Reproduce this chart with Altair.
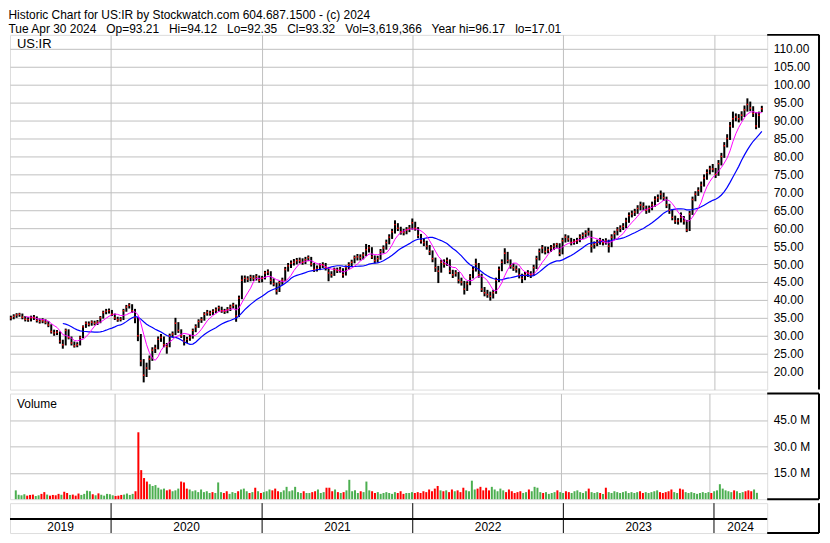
import altair as alt
import pandas as pd

# ---------------- data ----------------
TITLE_LINE1 = "Historic Chart for US:IR by Stockwatch.com 604.687.1500 - (c) 2024"
TITLE_LINE2 = ("Tue Apr 30 2024\u00a0\u00a0 Op=93.21\u00a0\u00a0 Hi=94.12\u00a0\u00a0 Lo=92.35\u00a0\u00a0 "
               "Cl=93.32\u00a0\u00a0 Vol=3,619,366\u00a0\u00a0 Year hi=96.17\u00a0\u00a0 lo=17.01")
SYMBOL = "US:IR"
VOLUME_LABEL = "Volume"
FIRST_WEEK = "2019-05-03"
YEARS = [2019, 2020, 2021, 2022, 2023, 2024]
PRICE_TICKS = [20, 25, 30, 35, 40, 45, 50, 55, 60, 65, 70, 75, 80, 85, 90, 95, 100, 105, 110]
VOLUME_TICKS = [15e6, 30e6, 45e6]

# weekly closes
close = [
    35.0, 35.4, 35.8, 36.0, 35.2, 34.6, 34.5, 35.0, 35.1, 34.3,
    34.0, 34.2, 33.8, 33.0, 31.2, 30.8, 31.0, 28.5, 27.5, 31.5,
    29.5, 28.0, 27.2, 27.5, 29.5, 32.5, 33.5, 33.2, 33.8, 33.5,
    33.8, 35.0, 36.5, 36.8, 37.0, 36.0, 35.0, 34.5, 34.6, 37.0,
    38.0, 38.5, 37.0, 35.0, 30.0, 23.0, 19.0, 21.0, 23.5, 26.0,
    26.5, 29.0, 29.5, 27.5, 27.0, 30.0, 30.5, 33.5, 31.5, 30.0,
    28.5, 29.0, 29.5, 31.5, 32.5, 34.0, 34.5, 36.0, 36.5, 36.3,
    36.8, 37.2, 37.8, 37.0, 36.8, 37.3, 38.0, 38.5, 35.5, 40.5,
    45.5, 46.0, 45.8, 46.3, 46.0, 46.5, 45.5, 46.0, 47.5, 47.8,
    45.5, 44.5, 42.5, 44.8, 45.5, 48.5, 49.5, 50.2, 50.5, 51.0,
    51.0, 50.5, 51.2, 51.8, 50.0, 48.5, 48.8, 49.5, 49.8, 49.0,
    47.5, 47.0, 48.5, 48.2, 48.5, 47.0, 49.0, 49.8, 50.5, 51.8,
    52.0, 51.8, 52.5, 54.0, 54.5, 52.0, 51.0, 51.5, 53.5, 54.5,
    56.0, 57.5, 59.0, 61.0, 60.0, 59.0, 58.8, 59.5, 60.0, 61.5,
    60.0, 58.0, 56.5, 56.0, 55.0, 53.5, 51.5, 49.0, 48.0, 50.5,
    50.0, 51.0, 48.0, 47.0, 47.5, 45.5, 45.0, 43.0, 44.5, 46.5,
    48.5, 50.0, 47.0, 43.0, 42.0, 41.5, 41.0, 42.0, 45.5, 48.5,
    50.5, 53.0, 51.0, 49.5, 49.0, 48.5, 47.0, 46.0, 47.0, 47.5,
    47.0, 49.0, 51.5, 53.5, 54.5, 53.5, 54.0, 54.5, 55.0, 55.5,
    53.0, 56.5, 57.5, 57.0, 56.0, 56.3, 56.5, 57.5, 58.0, 58.5,
    59.0, 55.0, 55.5, 56.0, 56.5, 56.0, 56.5, 55.0, 57.5, 58.5,
    59.5, 60.0, 60.5, 62.0, 63.5, 64.0, 64.5, 65.5, 66.5, 66.0,
    65.0, 65.5, 66.5, 68.0, 68.5, 69.5, 68.5, 66.5, 65.0, 63.0,
    62.0, 62.0, 63.0, 62.0, 59.5, 64.0, 68.0, 69.5, 70.5, 72.0,
    74.0, 75.5, 76.5, 76.5, 75.0, 78.0, 80.0, 83.0, 85.0, 88.5,
    90.5, 91.0, 90.5, 91.5, 93.0, 94.5, 93.5, 92.0, 88.5, 91.5, 93.32,
]
# weekly highs
high = [
    35.6, 36.0, 36.3, 36.4, 36.2, 35.5, 35.2, 35.6, 35.8, 35.4,
    34.8, 34.9, 34.6, 34.1, 33.2, 31.7, 31.6, 31.2, 28.9, 32.0,
    31.8, 29.8, 28.4, 28.2, 30.0, 32.9, 34.0, 34.0, 34.3, 34.2,
    34.4, 35.5, 37.0, 37.5, 37.6, 37.2, 36.2, 35.3, 35.2, 37.5,
    38.6, 39.1, 38.8, 37.5, 35.2, 30.5, 23.5, 22.5, 24.5, 26.8,
    27.5, 29.8, 30.5, 29.8, 28.0, 30.6, 31.2, 35.0, 33.8, 31.8,
    30.2, 29.7, 30.2, 32.0, 33.2, 34.6, 35.2, 36.6, 37.2, 37.0,
    37.4, 37.9, 38.4, 38.1, 37.5, 38.0, 38.7, 39.2, 38.7, 41.2,
    46.8, 46.8, 46.6, 47.0, 46.9, 47.2, 46.8, 46.7, 48.1, 48.5,
    48.0, 46.0, 44.8, 45.3, 46.2, 49.2, 50.3, 51.0, 51.4, 51.7,
    51.8, 51.6, 52.0, 52.4, 52.0, 50.3, 49.6, 50.2, 50.5, 50.3,
    49.2, 48.0, 49.0, 49.0, 49.2, 48.8, 49.6, 50.5, 51.2, 52.4,
    52.8, 52.7, 53.3, 55.6, 55.3, 54.7, 52.4, 52.3, 54.2, 55.2,
    56.8, 58.3, 59.8, 62.2, 61.4, 60.4, 59.8, 60.3, 60.9, 62.7,
    61.8, 60.3, 58.4, 57.2, 56.5, 55.3, 53.8, 51.8, 49.5, 51.2,
    51.3, 51.8, 51.3, 48.4, 48.3, 47.8, 46.2, 45.3, 45.2, 47.2,
    49.3, 51.5, 50.3, 47.3, 43.6, 42.8, 42.3, 42.8, 46.2, 49.3,
    51.3, 54.4, 53.4, 51.3, 50.2, 49.6, 48.8, 47.3, 47.8, 48.3,
    48.0, 49.8, 52.3, 54.3, 55.3, 54.9, 54.8, 55.3, 55.8, 55.9,
    55.8, 57.3, 58.3, 58.0, 57.3, 57.0, 57.3, 58.3, 58.8, 59.4,
    60.1, 59.3, 56.3, 56.8, 57.3, 57.0, 57.2, 56.8, 58.3, 59.3,
    60.3, 60.8, 61.4, 62.9, 64.4, 64.9, 65.4, 66.4, 67.4, 67.2,
    66.3, 66.3, 67.4, 68.9, 69.4, 70.5, 69.9, 68.8, 66.8, 65.3,
    63.5, 62.8, 64.4, 63.4, 62.3, 64.8, 68.8, 70.3, 71.4, 73.0,
    75.0, 76.4, 77.4, 77.9, 76.8, 79.0, 81.0, 84.0, 86.2, 89.6,
    92.5, 92.0, 91.8, 92.6, 94.2, 96.2, 95.3, 94.0, 92.3, 92.5, 94.12,
]
# weekly lows
low = [
    34.3, 34.6, 35.0, 35.3, 34.6, 34.0, 33.9, 34.0, 34.4, 33.7,
    33.4, 33.5, 33.2, 32.4, 30.6, 30.0, 30.2, 27.8, 26.4, 27.3,
    29.0, 27.3, 26.7, 26.8, 27.3, 29.3, 32.2, 32.6, 32.8, 32.9,
    33.0, 33.5, 34.8, 36.0, 36.2, 35.5, 34.4, 33.9, 34.0, 34.4,
    36.7, 37.6, 36.4, 33.5, 28.5, 21.5, 17.0, 18.5, 20.5, 23.0,
    25.2, 26.2, 28.3, 26.8, 25.0, 26.8, 29.5, 30.2, 30.8, 29.4,
    27.3, 28.0, 28.6, 29.2, 31.0, 32.2, 33.6, 34.2, 35.6, 35.6,
    35.8, 36.3, 36.8, 36.4, 36.1, 36.3, 36.9, 37.6, 33.9, 35.2,
    40.2, 44.8, 45.0, 45.2, 45.3, 45.4, 44.8, 44.9, 45.7, 46.9,
    44.3, 43.8, 41.5, 42.2, 44.2, 45.2, 47.9, 48.9, 49.6, 49.9,
    50.2, 49.8, 50.0, 50.8, 49.3, 47.8, 47.9, 48.3, 48.9, 48.2,
    45.2, 46.2, 46.7, 47.5, 47.6, 46.2, 46.8, 48.5, 49.2, 50.2,
    51.0, 51.0, 51.3, 52.2, 53.2, 51.4, 50.2, 50.4, 51.2, 53.0,
    54.0, 55.5, 57.0, 58.5, 59.2, 58.2, 58.0, 58.3, 58.9, 59.6,
    59.3, 57.2, 55.7, 55.0, 54.0, 52.5, 50.5, 47.8, 44.7, 47.6,
    49.0, 49.5, 47.2, 46.1, 46.5, 44.6, 44.0, 41.5, 42.5, 44.1,
    46.0, 47.9, 46.2, 42.2, 41.0, 40.6, 39.8, 40.4, 41.7, 45.0,
    48.0, 50.0, 50.2, 48.7, 48.1, 47.6, 46.0, 44.7, 45.5, 46.4,
    46.1, 46.7, 48.6, 51.0, 53.0, 52.7, 53.0, 53.4, 53.9, 54.4,
    52.2, 52.7, 56.0, 56.2, 55.2, 55.4, 55.6, 56.1, 57.0, 57.4,
    57.9, 53.2, 54.3, 55.0, 55.4, 55.2, 55.4, 53.2, 54.7, 57.0,
    58.0, 58.9, 59.5, 60.0, 61.5, 63.0, 63.4, 64.0, 65.0, 65.0,
    64.0, 64.3, 65.0, 66.0, 67.3, 68.0, 67.6, 65.6, 64.0, 62.2,
    61.2, 61.0, 61.6, 61.0, 58.9, 59.2, 63.7, 67.5, 69.0, 70.0,
    71.6, 73.5, 75.0, 75.6, 74.0, 74.6, 77.5, 79.6, 82.5, 84.6,
    88.0, 89.8, 89.5, 90.0, 91.0, 92.5, 92.6, 91.0, 87.6, 88.0, 92.35,
]
# weekly volume, millions of shares
volume_m = [
    5.0, 2.5, 2.2, 2.8, 2.0, 2.4, 2.6, 1.8, 2.2, 3.0,
    4.0, 2.6, 2.0, 2.4, 2.2, 3.0, 2.5, 4.2, 3.5, 2.4,
    2.6, 2.0, 3.2, 2.4, 3.0, 4.8, 4.5, 2.8, 2.2, 3.3,
    2.5, 2.0, 3.0, 2.8, 2.2, 1.8, 2.0, 2.4, 2.6, 3.2,
    2.4, 3.0, 4.5, 38.0, 16.5, 12.0, 10.0, 8.5, 7.5, 8.0,
    6.5, 5.5, 6.0, 5.0, 5.5, 4.5, 5.0, 6.0, 10.0, 9.5,
    6.0, 5.5, 4.5, 5.0, 4.0, 5.5, 4.0, 4.5, 3.5, 4.0,
    3.5, 9.5, 4.0, 3.5, 4.5, 3.0, 4.0, 3.5, 4.5, 5.5,
    6.0, 4.5, 3.5, 4.0, 6.5, 4.5, 3.5, 4.0, 4.5, 5.5,
    5.0, 6.0, 4.5, 4.0, 5.0, 7.0, 4.5, 5.0, 7.0, 4.0,
    3.5, 4.5, 3.5, 3.5, 4.0, 4.5, 5.5, 3.5, 4.0, 6.5,
    6.5, 4.5, 5.5, 4.0, 3.5, 4.0, 5.0, 11.0, 4.5, 5.0,
    3.5, 4.5, 4.0, 10.0, 5.0, 4.5, 3.5, 4.0, 3.0, 3.5,
    4.0, 3.5, 3.0, 4.0, 3.5, 4.5, 3.0, 3.5, 3.5, 4.0,
    3.5, 4.0, 3.5, 4.5, 4.0, 5.5, 4.5, 6.0, 7.5, 5.0,
    4.5, 5.0, 4.0, 5.5, 4.5, 5.0, 4.0, 6.5, 5.0, 4.5,
    10.5, 5.5, 6.0, 7.0, 5.0, 6.5, 5.0, 7.0, 5.5, 4.5,
    6.0, 5.0, 4.0, 5.5, 4.5, 3.5, 4.0, 4.5, 3.5, 4.0,
    5.5, 4.5, 7.0, 6.5, 4.0, 3.5, 4.0, 3.0, 3.5, 4.0,
    5.0, 4.0, 3.5, 4.5, 4.0, 3.5, 4.5, 5.0, 4.0, 3.5,
    4.5, 6.0, 4.0, 3.5, 4.0, 3.5, 3.0, 6.5, 4.0, 3.5,
    4.5, 4.0, 3.5, 4.0, 4.5, 3.5, 4.0, 3.5, 4.0, 4.5,
    3.5, 4.0, 3.5, 4.0, 4.5, 5.0, 4.0, 3.5, 4.0, 4.5,
    5.5, 4.0, 3.5, 6.0, 5.5, 4.0, 3.5, 4.0, 3.5, 3.0,
    3.5, 4.0, 3.5, 4.0, 3.5, 4.5, 5.0, 8.5, 6.0, 5.0,
    4.5, 4.0, 5.0, 4.5, 3.5, 4.0, 4.5, 5.0, 4.5, 5.5, 3.6,
]

# ---------------- table ----------------
dates = pd.date_range(FIRST_WEEK, periods=len(close), freq="7D")
df = pd.DataFrame({
    "date": dates.strftime("%Y-%m-%d"),
    "close": close,
    "high": high,
    "low": low,
    "volume": [v * 1e6 for v in volume_m],
})
prev = [close[0]] + close[:-1]
df["dir"] = ["up" if c >= p else "down" for c, p in zip(close, prev)]

years_df = pd.DataFrame({"year": YEARS})
bounds_df = pd.DataFrame({"date": [f"{y}-01-01" for y in YEARS[1:]]})

# ---------------- layout constants ----------------
W = 760          # plot width
AX = 52          # width of the axis strip right of the plot
PH = 356         # price panel height
VH = 106         # volume panel height
BH = 30          # year band height
ROW = 16         # blank row height inside the year band
FONT = "Liberation Sans"
GRID = "#c0c0c0"

x_dom = [alt.DateTime(year=2019, month=5, date=1), alt.DateTime(year=2024, month=5, date=9)]
x_scale = alt.Scale(domain=x_dom)
year_vals = [alt.DateTime(year=y, month=1, date=1) for y in YEARS[1:]]
x_axis = alt.Axis(title=None, labels=False, ticks=False, domain=False, grid=True,
                  gridColor=GRID, gridWidth=1, values=year_vals)
X = alt.X("date:T", scale=x_scale, axis=x_axis, title=None)

# ---------------- price panel ----------------
p_scale = alt.Scale(domain=[15, 113.9], nice=False, zero=False)
p_axis = alt.Axis(orient="right", values=PRICE_TICKS, format=".2f", title=None, ticks=False,
                  domain=False, grid=True, gridColor=GRID, labelFont=FONT, labelFontSize=12,
                  labelColor="black", labelPadding=6)


def PY(field):
    return alt.Y(field, scale=p_scale, axis=p_axis, title=None)


base = alt.Chart(df)
bars = base.mark_rule(color="black", strokeWidth=2).encode(x=X, y=PY("low:Q"), y2="high:Q")
closes = base.mark_square(color="#ff0000", size=2, opacity=1).encode(x=X, y=PY("close:Q"))
ma_fast = base.transform_window(
    ma="mean(close)", n="count()", frame=[-5, 0], sort=[alt.SortField("date")]
).transform_filter("datum.n >= 6").mark_line(color="#ff00ff", strokeWidth=1).encode(
    x=X, y=PY("ma:Q"))
ma_slow = base.transform_window(
    ma="mean(close)", n="count()", frame=[-18, 0], sort=[alt.SortField("date")]
).transform_filter("datum.n >= 19").mark_line(color="#0000ff", strokeWidth=1.2).encode(
    x=X, y=PY("ma:Q"))
sym = alt.Chart(pd.DataFrame({"t": [SYMBOL]})).mark_text(
    align="left", baseline="top", font=FONT, fontSize=13, color="black").encode(
    text="t:N", x=alt.value(7), y=alt.value(3))
frame_p = alt.Chart(pd.DataFrame({"t": [0]})).mark_rule(color="black", strokeWidth=2).encode(
    x=alt.value(W), x2=alt.value(W + AX), y=alt.value(0))
frame_p2 = alt.Chart(pd.DataFrame({"t": [0]})).mark_rule(color="black", strokeWidth=2).encode(
    x=alt.value(W + AX), y=alt.value(0), y2=alt.value(PH))

price = alt.layer(bars, ma_slow, ma_fast, closes, sym, frame_p, frame_p2).properties(
    width=W, height=PH)

# ---------------- volume panel ----------------
v_scale = alt.Scale(domain=[0, 60e6], nice=False)
v_axis = alt.Axis(orient="right", values=VOLUME_TICKS, title=None, ticks=False, domain=False,
                  grid=True, gridColor=GRID, labelFont=FONT, labelFontSize=12, labelColor="black",
                  labelPadding=6, labelExpr="format(datum.value / 1000000, '.1f') + ' M'")
vbars = base.mark_bar(width=2).encode(
    x=X, y=alt.Y("volume:Q", scale=v_scale, axis=v_axis, title=None),
    color=alt.Color("dir:N", scale=alt.Scale(domain=["up", "down"], range=["#4caf50", "#ff0000"]),
                    legend=None))
vlab = alt.Chart(pd.DataFrame({"t": [VOLUME_LABEL]})).mark_text(
    align="left", baseline="top", font=FONT, fontSize=12, color="black").encode(
    text="t:N", x=alt.value(7), y=alt.value(5))
frame_v = alt.Chart(pd.DataFrame({"t": [0]})).mark_rule(color="black", strokeWidth=2).encode(
    x=alt.value(W), x2=alt.value(W + AX), y=alt.value(0))
frame_v3 = alt.Chart(pd.DataFrame({"t": [0]})).mark_rule(color="black", strokeWidth=2).encode(
    x=alt.value(W), x2=alt.value(W + AX), y=alt.value(VH))
frame_v2 = alt.Chart(pd.DataFrame({"t": [0]})).mark_rule(color="black", strokeWidth=2).encode(
    x=alt.value(W + AX), y=alt.value(0), y2=alt.value(VH))
volume = alt.layer(vbars, vlab, frame_v, frame_v3, frame_v2).properties(width=W, height=VH)

# ---------------- year band ----------------
XB = alt.X("date:T", scale=x_scale, axis=None)
dividers = alt.Chart(bounds_df).mark_rule(color="black", strokeWidth=1).encode(
    x=XB, y=alt.value(0), y2=alt.value(BH))
labels = alt.Chart(years_df).transform_calculate(
    a="max(datetime(datum.year, 0, 1), datetime(2019, 4, 1))",
    b="min(datetime(datum.year + 1, 0, 1), datetime(2024, 4, 9))",
    mid="(datum.a + datum.b) / 2",
).mark_text(font=FONT, fontSize=12, color="black", baseline="middle").encode(
    x=alt.X("mid:T", scale=x_scale, axis=None), y=alt.value(ROW + 8), text="year:N")
hline = alt.Chart(pd.DataFrame({"t": [0]})).mark_rule(color="black", strokeWidth=2).encode(
    x=alt.value(0), x2=alt.value(W), y=alt.value(ROW))
frame_b = alt.Chart(pd.DataFrame({"t": [0]})).mark_rule(color="black", strokeWidth=2).encode(
    x=alt.value(W + AX), y=alt.value(0), y2=alt.value(BH))
frame_b2 = alt.Chart(pd.DataFrame({"t": [0]})).mark_rule(color="black", strokeWidth=2).encode(
    x=alt.value(W), x2=alt.value(W + AX), y=alt.value(BH))
band = alt.layer(dividers, hline, labels, frame_b, frame_b2).properties(width=W, height=BH)

chart = alt.vconcat(price, volume, band, spacing=0).properties(
    title=alt.TitleParams(text=[TITLE_LINE1, TITLE_LINE2], anchor="start", font=FONT,
                          fontSize=12, fontWeight="normal", color="black", lineHeight=14,
                          offset=-3, frame="bounds"),
    padding={"left": 0, "top": 0, "right": 1, "bottom": 0},
).configure_view(stroke="black", strokeWidth=2).configure(background="white")

chart.save("out.html", embed_options={"renderer": "svg", "actions": False})
